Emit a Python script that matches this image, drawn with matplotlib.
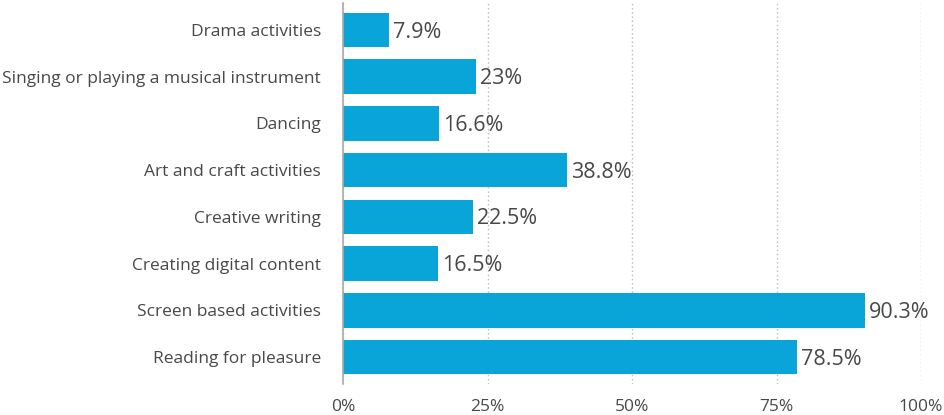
import matplotlib.pyplot as plt

plt.rcParams['font.family'] = ['Open Sans', 'DejaVu Sans']

categories = ["Drama activities", "Singing or playing a musical instrument", "Dancing",
              "Art and craft activities", "Creative writing", "Creating digital content",
              "Screen based activities", "Reading for pleasure"]
values = [7.9, 23, 16.6, 38.8, 22.5, 16.5, 90.3, 78.5]
value_labels = ["7.9%", "23%", "16.6%", "38.8%", "22.5%", "16.5%", "90.3%", "78.5%"]
xticks = [0, 25, 50, 75, 100]
xtick_labels = ["0%", "25%", "50%", "75%", "100%"]

bar_color = "#0aa5d8"
text_color = "#484848"

fig = plt.figure(figsize=(9.45, 4.15), dpi=100)
ax = fig.add_axes([343 / 945, 1 - 384 / 415, (921 - 343) / 945, 381 / 415])

pos = list(range(len(categories)))
ax.barh(pos, values, height=0.74, color=bar_color, zorder=3)
for p, v, lab in zip(pos, values, value_labels):
    ax.annotate(lab, (v, p), xytext=(3, -1.5), textcoords="offset points",
                va="center", ha="left", fontsize=15.5, color=text_color)

ax.set_ylim(len(categories) - 0.42, -0.58)
ax.set_xlim(0, 100)
ax.set_yticks(pos)
ax.set_yticklabels(categories, fontsize=12.5, color=text_color)
ax.set_xticks(xticks)
ax.set_xticklabels(xtick_labels, fontsize=12.5, color=text_color)
ax.tick_params(axis="both", length=0)
ax.tick_params(axis="y", pad=16)
ax.tick_params(axis="x", pad=11)

ax.grid(axis="x", color="#bbbbbb", linestyle=(0, (1, 2)), linewidth=1, zorder=0)
for s in ["top", "right", "bottom"]:
    ax.spines[s].set_visible(False)
ax.spines["left"].set_color("#aaaaaa")
ax.spines["left"].set_linewidth(1.2)
ax.spines["left"].set_zorder(4)

fig.savefig("out.png", dpi=100)
